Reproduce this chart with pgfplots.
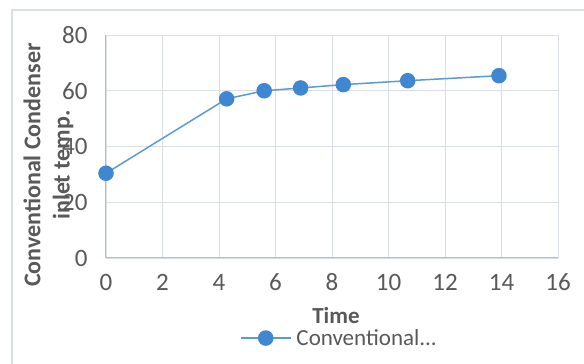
\documentclass[border=0pt]{standalone}
\usepackage{fontspec}
\setmainfont{Carlito}
\usepackage{pgfplots}
\pgfplotsset{compat=1.18}
\definecolor{txt}{HTML}{595959}
\definecolor{gridc}{HTML}{D9DEE8}
\definecolor{axc}{HTML}{B4BDD0}
\definecolor{serl}{HTML}{5B9BD5}
\definecolor{serm}{HTML}{3F87D1}
\begin{document}
\begin{tikzpicture}[x=1pt,y=1pt]
\useasboundingbox (0,0) rectangle (584,364);
\fill[white] (0,0) rectangle (584,364);
\draw[gridc, line width=1.2pt] (12,0) -- (12,354) -- (584,354);
\begin{axis}[
  at={(106pt,106pt)}, anchor=south west,
  scale only axis, width=452pt, height=223pt,
  xmin=0, xmax=16, ymin=0, ymax=80,
  xtick={0,2,...,16}, ytick={0,20,...,80},
  grid=major, major grid style={gridc, line width=0.8pt},
  axis line style={draw=none},
  tick style={draw=none},
  /pgf/number format/assume math mode=true,
  ticklabel style={font=\fontsize{25}{29}\selectfont, text=txt},
  xticklabel style={anchor=center, yshift=-24pt},
  yticklabel style={anchor=east, xshift=-15pt},
  clip=false,
  legend style={at={(0.296,-0.359)}, anchor=west, draw=none, fill=none,
    font=\fontsize{23}{27}\selectfont, text=txt, inner sep=0pt,
    /tikz/every even column/.append style={column sep=0pt}},
  legend image code/.code={\draw[mark repeat=2,mark phase=2,#1] plot coordinates {(0pt,0pt)(25pt,0pt)(50pt,0pt)};},
  legend cell align=left,
]
\draw[axc, line width=1pt] (axis cs:0,80) -- (axis cs:0,0) -- (axis cs:16,0);
\addplot[serl, line width=1.5pt, mark=*, mark size=7pt, mark options={fill=serm, draw=serm}]
  coordinates {(0,30.4) (4.27,57.1) (5.6,60.0) (6.89,61.0) (8.4,62.2) (10.68,63.6) (13.91,65.4)};
\addlegendentry{\kern3pt Conventional...}
\end{axis}
\node[rotate=90, text=txt, font=\fontsize{24}{28}\selectfont\bfseries] at (32,199) {Conventional Condenser};
\node[rotate=90, text=txt, font=\fontsize{24}{28}\selectfont\bfseries] at (63,199) {inlet temp.};
\node[text=txt, font=\fontsize{23}{27}\selectfont\bfseries] at (336,48) {Time};
\end{tikzpicture}
\end{document}
